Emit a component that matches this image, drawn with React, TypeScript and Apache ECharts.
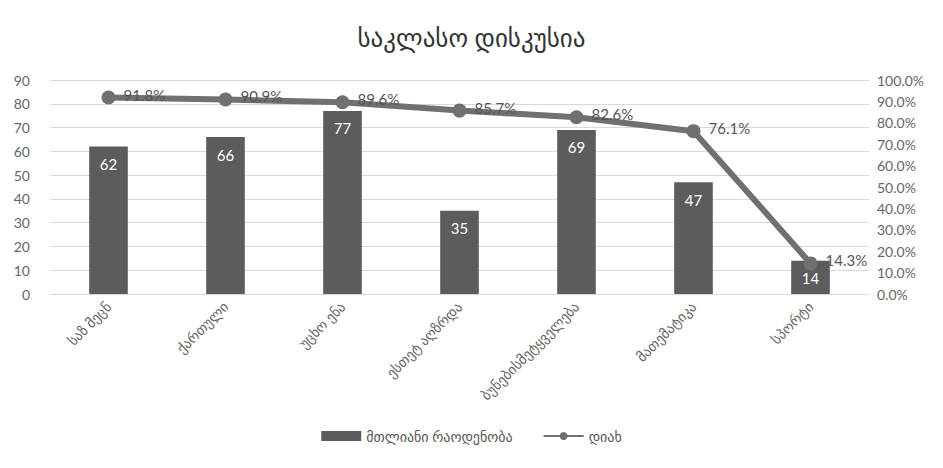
import React, { useEffect, useRef } from "react";
import * as echarts from "echarts";

const title = "საკლასო დისკუსია";
const categories = ["საზ მეცნ", "ქართული", "უცხო ენა", "ესთეტ აღზრდა", "ბუნებისმეტყველება", "მათემატიკა", "სპორტი"];
const totalCounts = [62, 66, 77, 35, 69, 47, 14];
const yesPercent = [91.8, 90.9, 89.6, 85.7, 82.6, 76.1, 14.3];
const leftTicks = { min: 0, max: 90, interval: 10 };
const rightTicks = { min: 0, max: 100, interval: 10 };
const seriesNames = ["მთლიანი რაოდენობა", "დიახ"];

const FONT = "Lato, 'DejaVu Sans', sans-serif";

export default function App() {
  const ref = useRef<HTMLDivElement>(null);
  useEffect(() => {
    if (!ref.current) return;
    const chart = echarts.init(ref.current, null, { renderer: "svg" });
    chart.setOption({
      animation: false,
      backgroundColor: "#ffffff",
      textStyle: { fontFamily: FONT },
      graphic: [
        {
          type: "line",
          z: 100,
          silent: true,
          shape: { x1: 4, y1: 4, x2: 943, y2: 4 },
          style: { stroke: "#cfcfcf", lineWidth: 2 },
        },
        {
          type: "line",
          z: 100,
          silent: true,
          shape: { x1: 4, y1: 4, x2: 4, y2: 468 },
          style: { stroke: "#cfcfcf", lineWidth: 2 },
        },
      ],
      title: {
        text: title,
        left: "center",
        top: 19,
        textStyle: { fontFamily: FONT, fontSize: 25, fontWeight: "normal", color: "#333" },
      },
      legend: {
        bottom: 20,
        left: "center",
        itemGap: 30,
        itemWidth: 40,
        itemHeight: 10,
        textStyle: { fontFamily: FONT, fontSize: 14, color: "#555" },
        data: [
          { name: seriesNames[0], icon: "rect" },
          { name: seriesNames[1] },
        ],
      },
      grid: { left: 50, right: 74, top: 80, bottom: 174 },
      xAxis: {
        type: "category",
        data: categories,
        axisLine: { lineStyle: { color: "#d9d9d9" } },
        axisTick: { show: false },
        axisLabel: {
          rotate: 45,
          interval: 0,
          fontFamily: FONT,
          fontSize: 14,
          color: "#666",
          margin: 10,
        },
      },
      yAxis: [
        {
          type: "value",
          ...leftTicks,
          axisLine: { show: false },
          axisTick: { show: false },
          splitLine: { lineStyle: { color: "#d9d9d9" } },
          axisLabel: { fontFamily: FONT, fontSize: 14, color: "#666", margin: 20 },
        },
        {
          type: "value",
          ...rightTicks,
          axisLine: { show: false },
          axisTick: { show: false },
          splitLine: { show: false },
          axisLabel: {
            fontFamily: FONT,
            fontSize: 14,
            color: "#666",
            margin: 8,
            formatter: (v: number) => v.toFixed(1) + "%",
          },
        },
      ],
      series: [
        {
          name: seriesNames[0],
          type: "bar",
          data: totalCounts,
          barWidth: "33%",
          itemStyle: { color: "#5c5c5c" },
          label: {
            show: true,
            position: "insideTop",
            distance: 10,
            color: "#fff",
            fontFamily: FONT,
            fontSize: 15,
          },
        },
        {
          name: seriesNames[1],
          type: "line",
          yAxisIndex: 1,
          data: yesPercent,
          symbol: "circle",
          symbolSize: 14,
          lineStyle: { color: "#707070", width: 6 },
          itemStyle: { color: "#707070" },
          label: {
            show: true,
            position: "right",
            distance: 8,
            offset: [0, -3],
            color: "#555",
            fontFamily: FONT,
            fontSize: 15,
            formatter: (p: any) => p.value.toFixed(1) + "%",
          },
        },
      ],
    });
    return () => chart.dispose();
  }, []);
  return <div ref={ref} style={{ width: 943, height: 468, marginLeft: -8, marginTop: -8 }} />;
}
